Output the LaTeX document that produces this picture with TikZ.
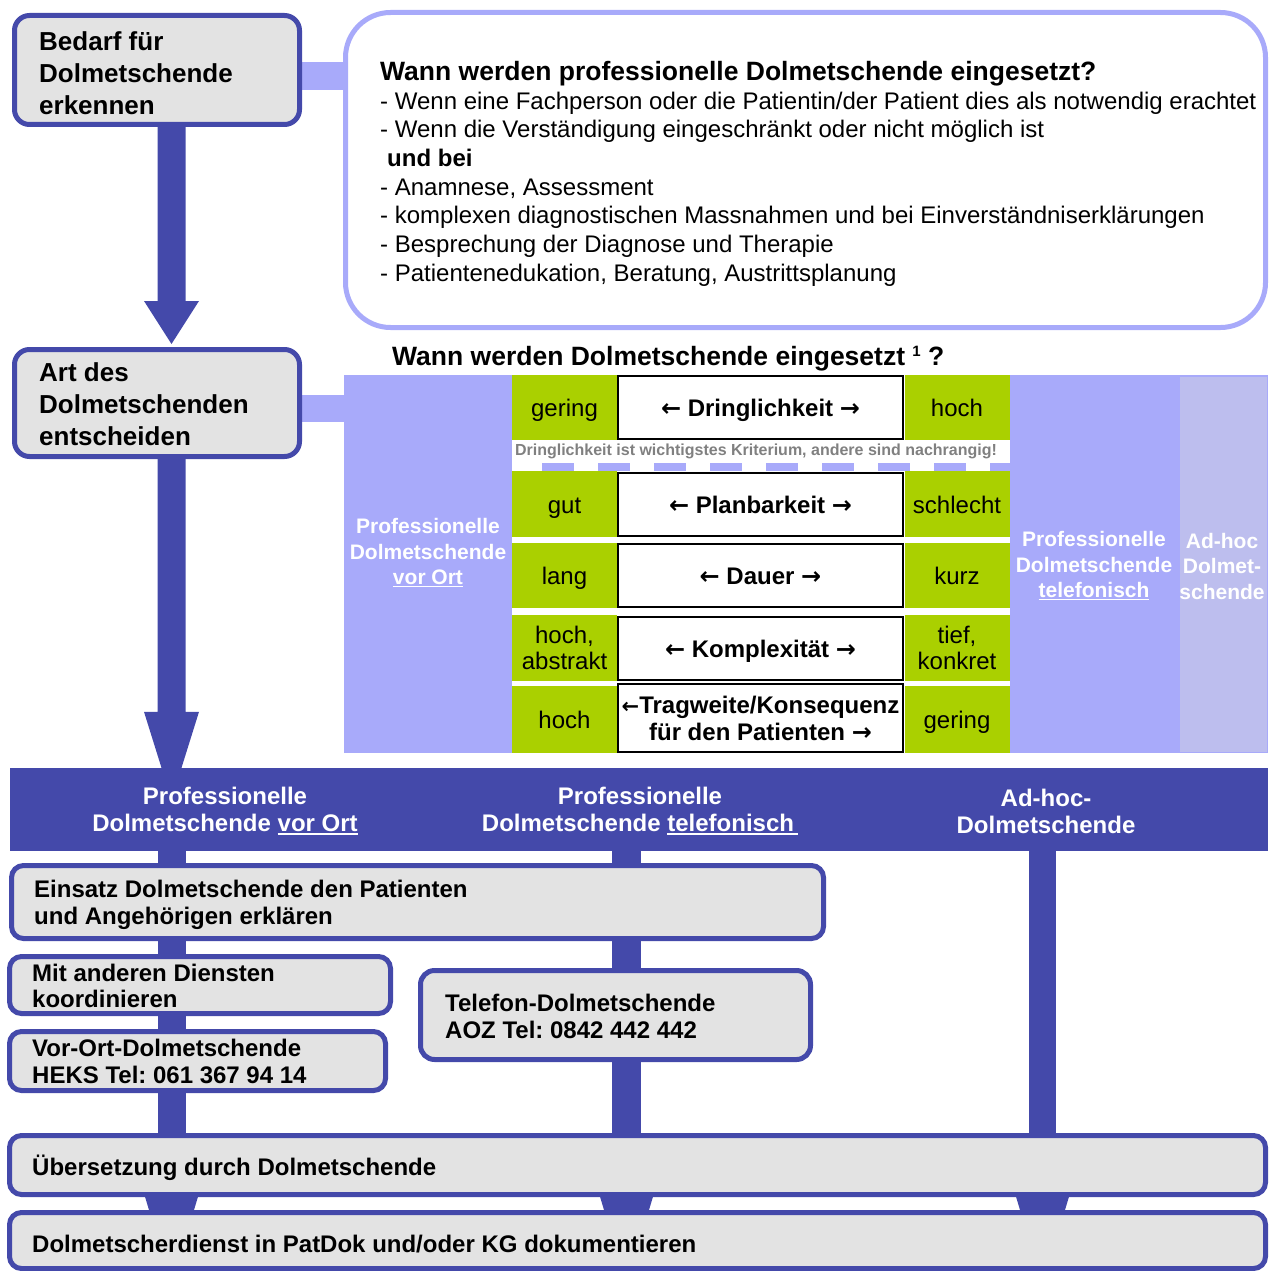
\documentclass[tikz,border=0pt]{standalone}
\usepackage{fontspec}
\setmainfont{Liberation Sans}
\newfontfamily\arrfont{DejaVu Sans}
\usetikzlibrary{calc,backgrounds}
\definecolor{dblue}{RGB}{68,73,170}
\definecolor{lblue}{RGB}{168,170,250}
\definecolor{adhoc}{RGB}{189,190,238}
\definecolor{lgreen}{RGB}{170,208,0}
\definecolor{boxgray}{RGB}{227,227,227}
\definecolor{notegray}{RGB}{128,128,128}
\frenchspacing
\newcommand\fsz[2]{\fontsize{#1}{#2}\selectfont}
\newcommand\myul[1]{\setbox0\hbox{#1}\leavevmode\rlap{\rule[-2.6pt]{\wd0}{1.6pt}}\box0}
\newcommand\la{{\arrfont\bfseries ←}}
\newcommand\ra{{\arrfont\bfseries →}}
\newcommand\fatarrow[5]{\fill[dblue] let \p1=(#1), \p2=(#2) in (\x2-#3,\y1) -- (\x2-#3,\y2+#5) -- (\x2-#4,\y2+#5) -- (\x2,\y2) -- (\x2+#4,\y2+#5) -- (\x2+#3,\y2+#5) -- (\x2+#3,\y1) -- cycle;}
\begin{document}
\begin{tikzpicture}[x=1pt,y=-1pt,
  rbox/.style={draw=dblue, line width=5pt, fill=boxgray, rounded corners=#1, inner sep=0pt},
  rbox/.default=12pt,
  txt/.style={anchor=north west, inner sep=0pt, align=left, font=\bfseries\fsz{24}{27}},
  ctxt/.style={anchor=center, inner sep=0pt, align=center},
  oneline/.style={text height=20pt, text depth=2pt},
  gcell/.style={fill=lgreen, inner sep=0pt, minimum width=105pt, font=\fsz{24}{26}, align=center},
  mcell/.style={draw=black, line width=2pt, fill=white, inner sep=0pt, minimum width=285pt, font=\bfseries\fsz{24}{27}, align=center},
  col/.style={fill=lblue, inner sep=0pt, minimum width=168pt, minimum height=378pt},
  lconn/.style={lblue, line width=28pt},
  vline/.style={dblue, line width=28pt}]
\useasboundingbox (0,0) rectangle (1270,1271);

% ---- top boxes
\node[rbox=15pt, minimum width=285pt, minimum height=109pt] (box1) at (157,70) {};
\node[rbox=15pt, minimum width=285pt, minimum height=107pt] (box2) at (157,403) {};
\node[draw=lblue, line width=5pt, fill=white, rounded corners=45pt, minimum width=920pt, minimum height=315pt, inner sep=0pt] (bigbox) at (805.5,170) {};

\node[txt, font=\bfseries\fsz{26}{32}] (t1) at (39,31) {Bedarf für\\Dolmetschende\\erkennen};
\node[txt, font=\bfseries\fsz{26}{32}] (t2) at (39,362) {Art des\\Dolmetschenden\\entscheiden};

\node[txt, font=\fsz{24}{28.7}] (t3) at (380,61) {{\bfseries\fsz{26.5}{28.7}Wann werden professionelle Dolmetschende eingesetzt?}\\
- Wenn eine Fachperson oder die Patientin/der Patient dies als notwendig erachtet\\
- Wenn die Verständigung eingeschränkt oder nicht möglich ist\\
\hspace*{7pt}{\bfseries und bei}\\
- Anamnese, Assessment\\
- komplexen diagnostischen Massnahmen und bei Einverständniserklärungen\\
- Besprechung der Diagnose und Therapie\\
- Patientenedukation, Beratung, Austrittsplanung};

% ---- table
\node[anchor=north west, inner sep=0pt, font=\bfseries\fsz{26.5}{30}] (head2) at (392,346) {Wann werden Dolmetschende eingesetzt {\fsz{15}{15}\raisebox{9pt}{1}} ?};

\node[col] (colOrt) at (428,564) {};
\node[col] (colTel) at (1094,564) {};
\node[fill=adhoc, draw=lblue, line width=1.5pt, minimum width=88.5pt, minimum height=376.5pt, inner sep=0pt] (colAd) at (1223,564) {};

\node[gcell, oneline, minimum height=65pt] (gL1) at (564.5,407.5) {gering};
\node[gcell, oneline, minimum height=66pt] (gL2) at (564.5,504) {gut};
\node[gcell, oneline, minimum height=65pt] (gL3) at (564.5,575.5) {lang};
\node[gcell, minimum height=66pt] (gL4) at (564.5,648) {hoch,\\abstrakt};
\node[gcell, oneline, minimum height=67pt] (gL5) at (564.5,719.5) {hoch};
\node[gcell, oneline, minimum height=65pt] (gR1) at (957,407.5) {hoch};
\node[gcell, oneline, minimum height=66pt] (gR2) at (957,504) {schlecht};
\node[gcell, oneline, minimum height=65pt] (gR3) at (957,575.5) {kurz};
\node[gcell, minimum height=66pt] (gR4) at (957,648) {tief,\\konkret};
\node[gcell, oneline, minimum height=67pt] (gR5) at (957,719.5) {gering};

\node[mcell, oneline, minimum height=63pt] (m1) at (760.5,407.5) {\la\ Dringlichkeit \ra};
\node[mcell, oneline, minimum height=63pt] (m2) at (760.5,504.5) {\la\ Planbarkeit \ra};
\node[mcell, oneline, minimum height=63pt] (m3) at (760.5,575.5) {\la\ Dauer \ra};
\node[mcell, oneline, minimum height=63pt] (m4) at (760.5,648.5) {\la\ Komplexität \ra};
\node[mcell, minimum height=68pt] (m5) at (760.5,718) {{\arrfont\fsz{21}{27}←}Tragweite/Konsequenz\\für den Patienten \ra};

\node[inner sep=0pt, font=\bfseries\fsz{16}{18}, text=notegray] (note) at (756,451) {Dringlichkeit ist wichtigstes Kriterium, andere sind nachrangig!};
\coordinate (ds) at (542,467);
\coordinate (de) at (1010,467);
\draw[lblue, line width=8pt, dash pattern=on 32pt off 24pt] (ds) -- (de);

\node[ctxt, text=white, font=\bfseries\fsz{21}{25.5}] (tOrt) at (428,553) {Professionelle\\Dolmetschende\\\myul{vor Ort}};
\node[ctxt, text=white, font=\bfseries\fsz{21}{25.5}] (tTel) at (1094,566) {Professionelle\\Dolmetschende\\\myul{telefonisch}};
\node[ctxt, text=white, font=\bfseries\fsz{21}{25.5}] (tAd) at (1222,566) {Ad-hoc\\Dolmet-\\schende};

% ---- band
\node[fill=dblue, minimum width=1258pt, minimum height=83pt, inner sep=0pt] (band) at (639,809.5) {};
\node[ctxt, text=white, font=\bfseries\fsz{24}{27}] (b1) at (225,811) {Professionelle\\Dolmetschende \myul{vor Ort}};
\node[ctxt, text=white, font=\bfseries\fsz{24}{27}] (b2) at (640,811) {Professionelle\\Dolmetschende \myul{telefonisch\,}};
\node[ctxt, text=white, font=\bfseries\fsz{24}{27}] (b3) at (1046,811) {Ad-hoc-\\Dolmetschende};

% ---- lower boxes
\node[rbox, minimum width=812pt, minimum height=73pt] (einsatz) at (417.5,902) {};
\node[rbox, minimum width=381pt, minimum height=57pt] (mit) at (200,985) {};
\node[rbox, minimum width=376pt, minimum height=59pt] (vorort) at (197.5,1061) {};
\node[rbox=14pt, minimum width=390pt, minimum height=89pt] (telefon) at (615.5,1015) {};
\node[rbox, minimum width=1256pt, minimum height=59pt] (ueber) at (637.5,1165) {};
\node[rbox, minimum width=1256pt, minimum height=56pt] (doku) at (637.5,1240.5) {};

\node[txt] (te) at (34,880) {Einsatz Dolmetschende den Patienten\\und Angehörigen erklären};
\node[txt, font=\bfseries\fsz{24}{26}] (tm) at (32,964) {Mit anderen Diensten\\koordinieren};
\node[txt] (tv) at (32,1039) {Vor-Ort-Dolmetschende\\HEKS Tel: 061 367 94 14};
\node[txt] (tt) at (445,994) {Telefon-Dolmetschende\\AOZ Tel: 0842 442 442};
\node[anchor=base west, inner sep=0pt, font=\bfseries\fsz{24}{27}] (tu) at (32,1175.5) {Übersetzung durch Dolmetschende};
\node[anchor=base west, inner sep=0pt, font=\bfseries\fsz{24}{27}] (td) at (32,1252.5) {Dolmetscherdienst in PatDok und/oder KG dokumentieren};

% ---- connectors (behind)
\coordinate (cA) at (171.5,0);
\coordinate (cB) at (626.5,0);
\coordinate (cC) at (1042.5,0);
\begin{scope}[on background layer]
\draw[lconn] ([yshift=-6pt]box1.east) -- ([yshift=-6pt]box1.east -| bigbox.west);
\draw[lblue, line width=27pt] ([yshift=-5.5pt]box2.east) -- ([yshift=-5.5pt]box2.east -| colOrt.west);
\fatarrow{cA |- box1.south}{$(cA |- box2.north)+(0,-3)$}{14pt}{27.5pt}{43pt}
\fatarrow{cA |- box2.south}{$(cA |- band.north)+(0,32)$}{14pt}{27.5pt}{88pt}
\draw[vline] (cA |- band.south) -- (cA |- ueber.north);
\draw[vline, line width=29pt] (cB |- band.south) -- (cB |- ueber.north);
\draw[vline, line width=27pt] (cC |- band.south) -- (cC |- ueber.north);
\fatarrow{cA |- ueber.south}{$(cA |- doku.north)+(0,75)$}{14pt}{27pt}{90pt}
\fatarrow{cB |- ueber.south}{$(cB |- doku.north)+(0,75)$}{14pt}{27pt}{90pt}
\fatarrow{cC |- ueber.south}{$(cC |- doku.north)+(0,75)$}{14pt}{27pt}{90pt}
\end{scope}
\end{tikzpicture}
\end{document}
